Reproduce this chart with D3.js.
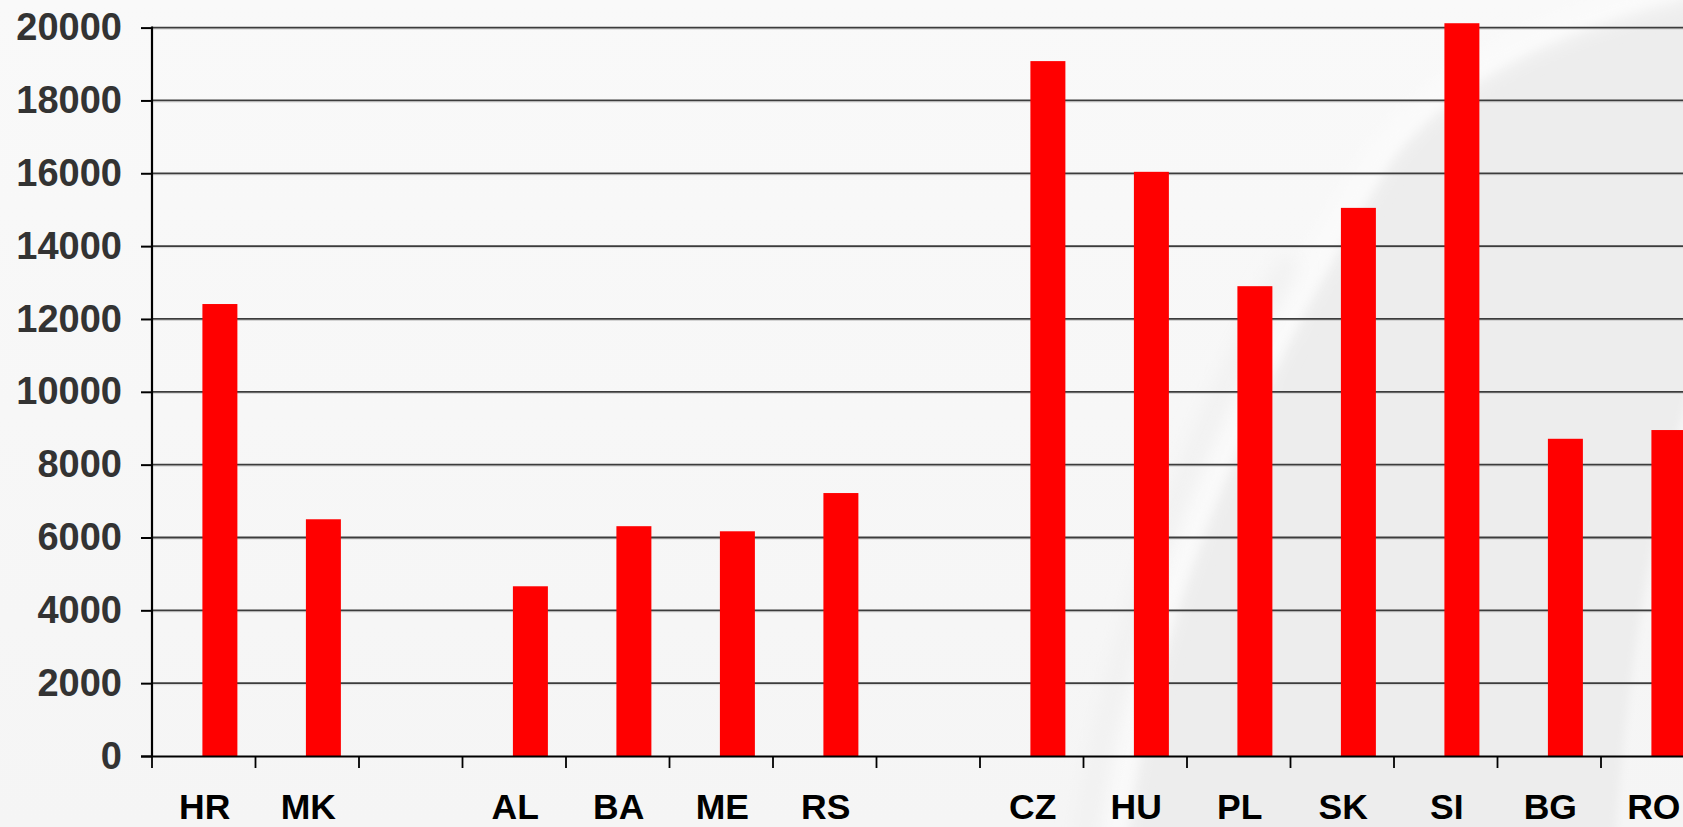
<!DOCTYPE html>
<html>
<head>
<meta charset="utf-8">
<script src="https://cdn.jsdelivr.net/npm/d3@7/dist/d3.min.js"></script>
<style>
  html, body { margin: 0; padding: 0; background: #f5f5f5; overflow: hidden; }
  svg { display: block; }
</style>
</head>
<body>
<svg id="chart" width="1683" height="827"></svg>
<script>
// ---- data ----
const categories = ["HR", "MK", "", "AL", "BA", "ME", "RS", "", "CZ", "HU", "PL", "SK", "SI", "BG", "RO"];
const values     = [12410, 6500, null, 4660, 6310, 6170, 7220, null, 19080, 16040, 12900, 15050, 20120, 8710, 8950];
const yTicks     = [0, 2000, 4000, 6000, 8000, 10000, 12000, 14000, 16000, 18000, 20000];

// ---- layout ----
const W = 1683, H = 827;
const left = 152, bandW = 103.5, y0 = 756, yTop = 27.6;

const svg = d3.select("#chart");

// background
const defs = svg.append("defs");
const blur = defs.append("filter").attr("id", "soft").attr("x", "-20%").attr("y", "-20%").attr("width", "140%").attr("height", "140%");
blur.append("feGaussianBlur").attr("stdDeviation", 10);
const blur2 = defs.append("filter").attr("id", "soft2").attr("x", "-20%").attr("y", "-20%").attr("width", "140%").attr("height", "140%");
blur2.append("feGaussianBlur").attr("stdDeviation", 4);

const topGrad = defs.append("linearGradient").attr("id", "topg").attr("x1", 0).attr("y1", 0).attr("x2", 0).attr("y2", 1);
topGrad.append("stop").attr("offset", "0%").attr("stop-color", "#f9f9f9");
topGrad.append("stop").attr("offset", "100%").attr("stop-color", "#f5f5f5");
svg.append("rect").attr("width", W).attr("height", H).attr("fill", "url(#topg)");

const bg = svg.append("g");
// darker swoosh region on right
bg.append("path")
  .attr("d", "M1126,840 C1150,640 1230,420 1390,160 C1440,90 1540,30 1700,-10 L1700,360 C1660,480 1630,640 1615,840 Z")
  .attr("fill", "#ededed")
  .attr("filter", "url(#soft2)");
// lighter highlight strip along the boundary
bg.append("path")
  .attr("d", "M1112,840 C1136,640 1216,420 1376,160 C1426,90 1526,25 1690,-12")
  .attr("fill", "none")
  .attr("stroke", "#fbfbfb")
  .attr("stroke-width", 22)
  .attr("filter", "url(#soft)");
// faint darker band left of highlight
bg.append("path")
  .attr("d", "M1085,840 C1110,660 1170,480 1290,260")
  .attr("fill", "none")
  .attr("stroke", "#f0f0f0")
  .attr("stroke-width", 18)
  .attr("filter", "url(#soft)");

// scales
const x = d3.scaleBand()
  .domain(d3.range(categories.length))
  .range([left, left + bandW * categories.length])
  .paddingInner(0).paddingOuter(0);
const y = d3.scaleLinear().domain([0, 20000]).range([y0, yTop]);

// gridlines
const grid = svg.append("g");
grid.selectAll("line.hl")
  .data(yTicks.filter(d => d > 0))
  .join("line")
  .attr("x1", left).attr("x2", W)
  .attr("y1", d => y(d) + 1.5).attr("y2", d => y(d) + 1.5)
  .attr("stroke", "#d2d2d2").attr("stroke-width", 1);
grid.selectAll("line.g")
  .data(yTicks.filter(d => d > 0))
  .join("line")
  .attr("x1", left).attr("x2", W)
  .attr("y1", d => y(d)).attr("y2", d => y(d))
  .attr("stroke", "#3c3c3c").attr("stroke-width", 1.8);

// bars
const bw = x.bandwidth();
svg.append("g").selectAll("rect")
  .data(values.map((v, i) => ({ i, v })).filter(d => d.v != null))
  .join("rect")
  .attr("x", d => x(d.i) + bw * 0.487)
  .attr("width", bw * 0.338)
  .attr("y", d => y(d.v))
  .attr("height", d => y(0) - y(d.v))
  .attr("fill", "#ff0000");

// y axis
const yAxis = d3.axisLeft(y).tickValues(yTicks).tickSize(11).tickPadding(19).tickFormat(d3.format("d"));
const gy = svg.append("g").attr("transform", `translate(${left},0)`).call(yAxis);
gy.select(".domain").remove();
gy.selectAll(".tick line").attr("stroke", "#000").attr("stroke-width", 2);
gy.selectAll(".tick text")
  .attr("fill", "#333")
  .style("font-family", "'Liberation Sans', Arial, Helvetica, sans-serif")
  .style("font-weight", "bold")
  .style("font-size", "38px");
svg.append("line")
  .attr("x1", left).attr("x2", left)
  .attr("y1", yTop - 1).attr("y2", y0 + 1)
  .attr("stroke", "#000").attr("stroke-width", 2.2);

// x axis
const xTickPos = d3.range(categories.length + 1).map(i => left + i * bandW);
const gx = svg.append("g");
gx.append("line")
  .attr("x1", left - 11).attr("x2", W)
  .attr("y1", y0 + 0.5).attr("y2", y0 + 0.5)
  .attr("stroke", "#000").attr("stroke-width", 2.2);
gx.selectAll("line.t")
  .data(xTickPos)
  .join("line")
  .attr("x1", d => d).attr("x2", d => d)
  .attr("y1", y0).attr("y2", y0 + 12)
  .attr("stroke", "#000").attr("stroke-width", 1.8);
gx.selectAll("text")
  .data(categories.map((c, i) => ({ c, i })).filter(d => d.c !== ""))
  .join("text")
  .attr("x", d => x(d.i) + bw / 2 + 1)
  .attr("y", 819)
  .attr("text-anchor", "middle")
  .attr("fill", "#000")
  .style("font-family", "'Liberation Sans', Arial, Helvetica, sans-serif")
  .style("font-weight", "bold")
  .style("font-size", "35.5px")
  .text(d => d.c);
</script>
</body>
</html>
